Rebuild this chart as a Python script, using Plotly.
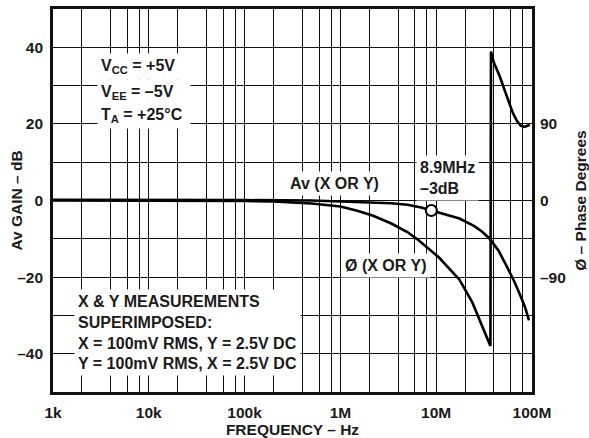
import math
import plotly.graph_objects as go

# ---- data ----
gain_freq = [1e3, 1e4, 1e5, 5e5, 1e6, 2e6, 3.4e6, 5e6, 7e6, 8.9e6, 12e6, 17.5e6,
             25e6, 30e6, 36e6, 45e6, 54.5e6, 65e6, 75e6, 85e6, 93e6]
gain_db = [0.2, 0.2, 0.1, 0.0, -0.2, -0.4, -0.7, -1.1, -1.8, -2.6, -3.5, -4.7,
           -6.7, -8.1, -9.9, -13.2, -17.2, -21.0, -24.6, -28.0, -31.3]

phase_freq = [1e3, 1e4, 1e5, 2e5, 3e5, 5e5, 1e6, 1.5e6, 2.2e6, 3.4e6, 5e6, 6.6e6,
              10.7e6, 17.5e6, 23.9e6, 30.5e6, 34e6, 36.8e6, 37.3e6, 40e6, 46e6,
              54.6e6, 63e6, 70e6, 76e6, 84e6, 95e6]
phase_deg = [0.2, 0.2, -0.5, -1.2, -2, -3.5, -7, -12, -18, -27, -37, -47,
             -67, -93, -120, -148, -162, -171, 175, 162, 146,
             122, 103, 93, 88, 86.5, 89]

marker_freq = [8.9e6]
marker_db = [-2.6]

x_tickvals = [1e3, 1e4, 1e5, 1e6, 1e7, 1e8]
x_ticktext = ["1k", "10k", "100k", "1M", "10M", "100M"]
x_minor = [m * 10 ** d for d in range(3, 8) for m in (2, 4, 6, 8)]

y_tickvals = [-40, -20, 0, 20, 40]
y_ticktext = ["–40", "–20", "0", "20", "40"]

y2_tickvals = [-90, 0, 90]
y2_ticktext = ["–90", "0", "90"]

FONT = "Liberation Sans, Arial, sans-serif"
INK = "#1a1a1a"
GRID = "#111"

fig = go.Figure()
fig.add_trace(go.Scatter(x=gain_freq, y=gain_db, mode="lines",
                         line=dict(color="black", width=2.6),
                         name="Av (X OR Y)", showlegend=False))
fig.add_trace(go.Scatter(x=phase_freq, y=phase_deg, mode="lines", yaxis="y2",
                         line=dict(color="black", width=2.6),
                         name="Ø (X OR Y)", showlegend=False))
fig.add_trace(go.Scatter(x=marker_freq, y=marker_db, mode="markers",
                         marker=dict(symbol="circle", size=11, color="white",
                                     line=dict(color="black", width=2)),
                         showlegend=False))

tickfont = dict(family=FONT, size=15.5, color=INK, weight="bold")
titlefont = dict(family=FONT, size=15.5, color=INK, weight="bold")
fig.update_layout(
    width=589, height=438,
    margin=dict(l=53, r=57, t=9, b=46),
    paper_bgcolor="white", plot_bgcolor="white",
    font=dict(family=FONT, size=15, color=INK),
    xaxis=dict(type="log", range=[3, 8], tickvals=x_tickvals, ticktext=x_ticktext,
               showgrid=True, gridcolor=GRID, gridwidth=1.4,
               minor=dict(tickvals=x_minor, showgrid=True, gridcolor=GRID, gridwidth=1.4, ticks=""),
               showline=True, linecolor=GRID, linewidth=2.6, mirror=True,
               ticks="", zeroline=False, automargin=False, tickfont=tickfont,
               ticklabelstandoff=5,
               title=dict(text="FREQUENCY – Hz", font=titlefont, standoff=5)),
    yaxis=dict(range=[-50, 50], tickvals=y_tickvals, ticktext=y_ticktext,
               showgrid=True, gridcolor=GRID, gridwidth=1.4,
               minor=dict(dtick=10, showgrid=True, gridcolor=GRID, gridwidth=1.4, ticks=""),
               showline=True, linecolor=GRID, linewidth=2.6, mirror=True,
               ticks="", zeroline=False, automargin=False, tickfont=tickfont,
               ticklabelstandoff=4),
    yaxis2=dict(range=[-225, 225], overlaying="y", side="right",
                tickvals=y2_tickvals, ticktext=y2_ticktext,
                showgrid=False, zeroline=False, ticks="", automargin=False, tickfont=tickfont,
                ticklabelstandoff=7,
                title=dict(text="Ø – Phase Degrees", font=titlefont, standoff=18)),
)

# left axis title (placed as rotated text for exact position)
fig.add_annotation(text="Av GAIN – dB", xref="paper", yref="paper", x=-0.0772, y=0.5,
                   xanchor="center", yanchor="middle", textangle=-90, showarrow=False,
                   font=titlefont)

ann_font = dict(family=FONT, size=16, color=INK, weight="bold")


def note(text, f, y, width=None):
    # x position given as a frequency; log axes take log10 coordinates
    fig.add_annotation(text=text, x=math.log10(f), y=y, xref="x", yref="y", showarrow=False,
                       xanchor="left", yanchor="middle", align="left", width=width,
                       bgcolor="white", borderpad=3, font=ann_font)


note("V<sub>CC</sub> = +5V", 10 ** 3.459, 34.9, width=86)
note("V<sub>EE</sub> = –5V", 10 ** 3.459, 28.1, width=86)
note("T<sub>A</sub> = +25°C", 10 ** 3.459, 22.1, width=86)
note("X & Y MEASUREMENTS<br>SUPERIMPOSED:<br>X = 100mV RMS, Y = 2.5V DC<br>Y = 100mV RMS, X = 2.5V DC",
     10 ** 3.219, -34.4)
note("Av (X OR Y)", 10 ** 5.432, 4.5)
note("8.9MHz<br>–3dB", 10 ** 6.789, 6.0)
note("Ø (X OR Y)", 10 ** 6.006, -17.1)

fig.write_html("out.html", post_script="document.body.style.margin='0px';",
               config={"displayModeBar": False})
